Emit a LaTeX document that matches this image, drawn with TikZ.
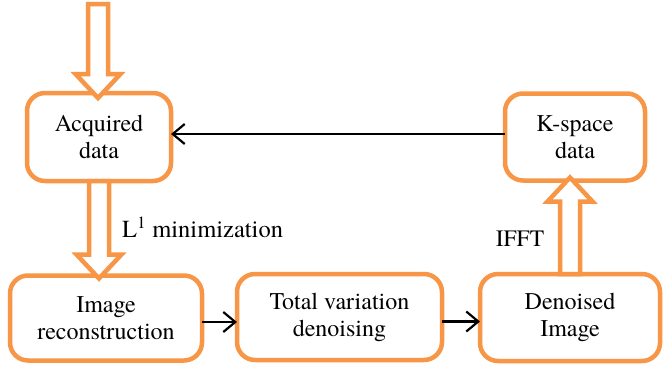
\documentclass[tikz,border=0pt]{standalone}
\usepackage{fontspec}
\setmainfont{texgyretermes-regular.otf}
\usetikzlibrary{arrows.meta,calc}
\definecolor{boxorange}{HTML}{F79646}

\tikzset{
  stage/.style={draw=boxorange, line width=4.5pt, rounded corners=18pt,
    fill=white, align=center, inner sep=0pt, outer sep=0pt,
    font=\fontsize{24}{27}\selectfont},
  flow/.style={line width=2.2pt, -{Straight Barb[length=12pt,width=20pt,line width=2.2pt]}},
  barrow/.style={draw=boxorange, fill=white, line width=4.5pt, line join=miter},
  tag/.style={inner sep=0pt, font=\fontsize{23.5}{27}\selectfont},
}

% open (hollow) vertical block arrow from #1 to the tip #2
\newcommand\hollowarrow[2]{%
  \draw[barrow] let \p1=(#1), \p2=(#2), \n1={sign(\y2-\y1)} in
    (\x1-10pt,\y1) -- (\x1-10pt,\y2-\n1*24pt) -- (\x1-22.5pt,\y2-\n1*24pt)
    -- (\x1,\y2) -- (\x1+22.5pt,\y2-\n1*24pt) -- (\x1+10pt,\y2-\n1*24pt)
    -- (\x1+10pt,\y1) -- cycle;}

\begin{document}
\begin{tikzpicture}[x=1pt,y=-1pt]
\useasboundingbox (0,0) rectangle (664,367);

\node[stage, minimum width=144pt, minimum height=88pt] (acq) at (99,137) {Acquired\\data};
\node[stage, minimum width=140pt, minimum height=87pt] (ksp) at (575,137) {K-space\\data};
\node[stage, minimum width=192pt, minimum height=85pt] (rec) at (106,318) {Image\\reconstruction};
\node[stage, minimum width=205pt, minimum height=86pt] (tv) at (339.5,317) {Total variation\\denoising};
\node[stage, minimum width=180pt, minimum height=87pt] (den) at (570,317.5) {Denoised\\Image};

% incoming data
\coordinate (in) at (98,4);
\coordinate (intip) at ($(in |- acq.north)+(0,5)$);
\hollowarrow{in}{intip}

% reconstruction step
\coordinate (recstart) at (acq.south);
\coordinate (rectip) at ($(acq.south |- rec.north)+(0,3)$);
\hollowarrow{recstart}{rectip}

% inverse transform step
\coordinate (ifftstart) at (den.north);
\coordinate (iffttip) at ($(den.north |- ksp.south)+(0,-3)$);
\hollowarrow{ifftstart}{iffttip}

\draw[flow] ([yshift=3pt]ksp.west) -- ([yshift=3pt]ksp.west -| acq.east);
\draw[flow] ([yshift=-4pt]rec.east) -- ([yshift=-4pt]rec.east -| tv.west);
\draw[flow] ([yshift=-4.5pt]tv.east) -- ([yshift=-4.5pt]tv.east -| den.west);

\node[tag, anchor=west, font=\fontsize{24.5}{28}\selectfont] (l1) at (122,227) {L\textsuperscript{1} minimization};
\node[tag] (ifft) at (520,239) {IFFT};
\end{tikzpicture}
\end{document}
